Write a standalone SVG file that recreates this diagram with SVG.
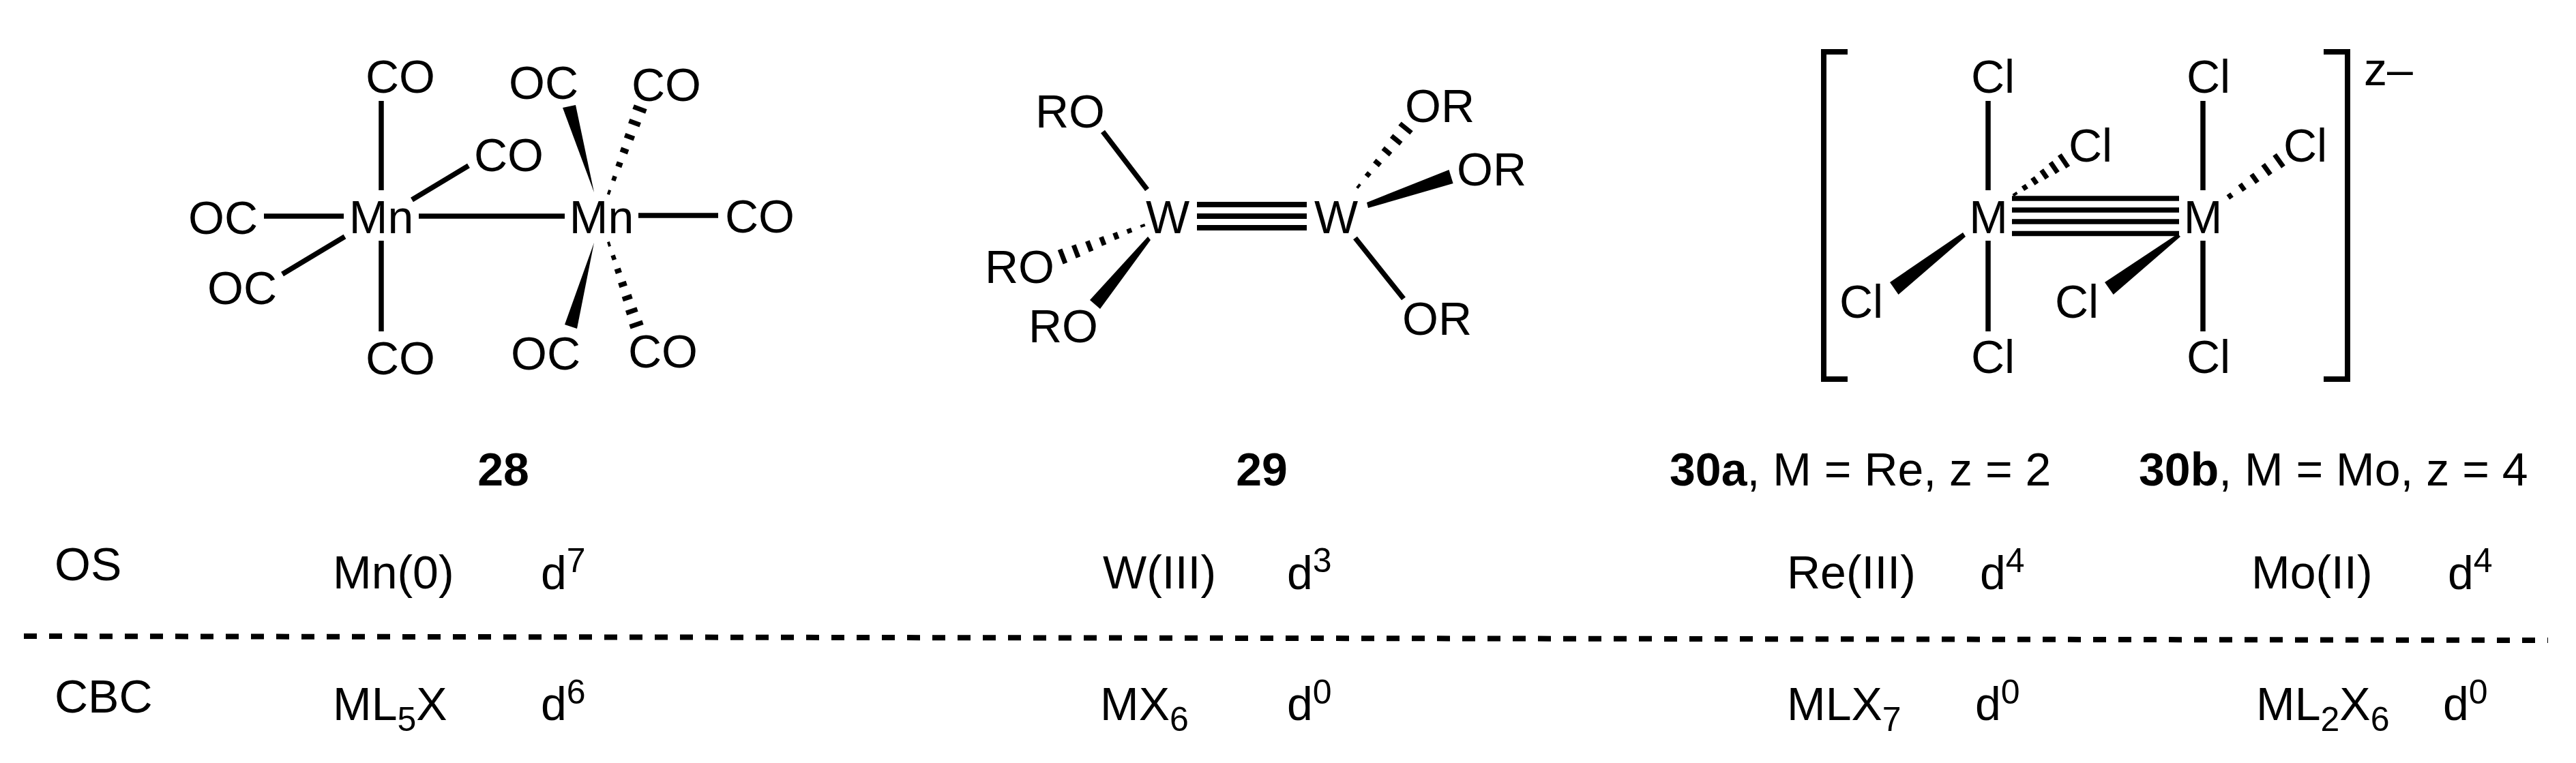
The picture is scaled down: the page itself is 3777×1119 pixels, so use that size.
<svg xmlns="http://www.w3.org/2000/svg" width="3777" height="1119" viewBox="0 0 3777 1119">
<style>
text{font-family:"Liberation Sans",Arial,sans-serif;font-size:68px;fill:#000}
.c{text-anchor:middle}
.b{font-weight:700}
tspan.s{font-size:50px}
.bond line,.bond path{stroke:#000;fill:none}
.bond line{stroke-width:7.5}
.hash line{stroke-width:7}
.wedge polygon{fill:#000}
</style>
<rect width="3777" height="1119" fill="#fff"/>
<g id="connectors" class="bond">
<g id="bonds-28">
<line x1="559" y1="148" x2="559" y2="279"/>
<line x1="559" y1="353" x2="559" y2="486"/>
<line x1="604" y1="293" x2="687" y2="243"/>
<line x1="387" y1="317" x2="504" y2="317"/>
<line x1="614" y1="317" x2="828" y2="317"/>
<line x1="936" y1="316" x2="1053" y2="316"/>
<line x1="505.500" y1="347" x2="414" y2="402"/>
<g class="wedge"><polygon points="871,282 825,158 844,154 871,282"/><polygon points="871,356 828,476 846,482"/></g>
<g class="hash">
<line x1="891" y1="281.300" x2="895" y2="282.700"/><line x1="897.400" y1="260.600" x2="903.600" y2="262.800"/><line x1="903.600" y1="239.700" x2="912.400" y2="242.900"/><line x1="909.900" y1="218.900" x2="921.100" y2="223.100"/><line x1="916.100" y1="198.200" x2="929.900" y2="203.200"/><line x1="922.300" y1="177.300" x2="938.700" y2="183.300"/><line x1="928.600" y1="156.500" x2="947.400" y2="163.500"/>
<line x1="891.100" y1="358.600" x2="894.900" y2="357.400"/><line x1="896.600" y1="378.800" x2="902.800" y2="376.600"/><line x1="901.800" y1="398.800" x2="910.800" y2="395.800"/><line x1="907.300" y1="418.900" x2="918.700" y2="415.100"/><line x1="912.800" y1="439" x2="926.600" y2="434.400"/><line x1="918.100" y1="459.100" x2="934.500" y2="453.500"/><line x1="923.500" y1="479.200" x2="942.500" y2="472.800"/>
</g>
</g>
<g id="bonds-29">
<line x1="1617" y1="193" x2="1682" y2="278"/>
<line x1="1987" y1="349" x2="2058" y2="438"/>
<line x1="1755" y1="300" x2="1916" y2="300" style="stroke-width:8"/><line x1="1755" y1="317" x2="1916" y2="317" style="stroke-width:8"/><line x1="1755" y1="334" x2="1916" y2="334" style="stroke-width:8"/>
<g class="wedge"><polygon points="2004,297 2006,305 2130.600,269 2124.500,249"/><polygon points="1683,347 1687,352 1613,453 1598,440"/></g>
<g class="hash">
<line x1="1990.400" y1="271.700" x2="1993.600" y2="274.300"/><line x1="2002.900" y1="253.600" x2="2008.700" y2="258.400"/><line x1="2015.300" y1="235.500" x2="2023.900" y2="242.500"/><line x1="2027.700" y1="217.300" x2="2039.100" y2="226.700"/><line x1="2040.100" y1="199.200" x2="2054.300" y2="210.800"/><line x1="2052.500" y1="181.100" x2="2069.500" y2="194.900"/>
<line x1="1674.800" y1="329.100" x2="1676.200" y2="332.900"/><line x1="1654.700" y1="335.200" x2="1657.100" y2="341.800"/><line x1="1634.500" y1="341.300" x2="1638.100" y2="350.700"/><line x1="1614.500" y1="347.400" x2="1619.100" y2="359.600"/><line x1="1594.300" y1="353.500" x2="1600.100" y2="368.500"/><line x1="1574.200" y1="359.600" x2="1581" y2="377.400"/><line x1="1554.100" y1="365.700" x2="1561.900" y2="386.300"/>
</g>
</g>
<g id="bonds-30">
<path d="M2709,76H2674V556H2709" style="stroke-width:8"/>
<path d="M3407,76H3442V556H3407" style="stroke-width:8"/>
<line x1="2915" y1="148" x2="2915" y2="279"/><line x1="2915" y1="353" x2="2915" y2="486"/>
<line x1="3230" y1="148" x2="3230" y2="279"/><line x1="3230" y1="353" x2="3230" y2="486"/>
<line x1="2950" y1="291" x2="3195" y2="291"/><line x1="2950" y1="308" x2="3195" y2="308"/><line x1="2950" y1="325" x2="3195" y2="325"/><line x1="2950" y1="342.500" x2="3195" y2="342.500"/>
<g class="wedge"><polygon points="2878,341 2882,347 2783.500,432 2771,414"/><polygon points="3193,343 3197,347 3098.700,432 3086,414"/></g>
<g class="hash">
<line x1="2953.500" y1="282.900" x2="2955.700" y2="286.300"/><line x1="2966.800" y1="271.700" x2="2971" y2="278.100"/><line x1="2980" y1="260.600" x2="2986.400" y2="269.800"/><line x1="2993.200" y1="249.300" x2="3001.600" y2="261.500"/><line x1="3006.500" y1="238.100" x2="3016.900" y2="253.300"/><line x1="3019.800" y1="226.900" x2="3032.200" y2="245.100"/>
<line x1="3267.400" y1="284.300" x2="3272" y2="290.700"/><line x1="3284.300" y1="269.800" x2="3291.100" y2="279.200"/><line x1="3301.200" y1="255.500" x2="3310" y2="267.700"/><line x1="3318.200" y1="241.100" x2="3329" y2="256.100"/><line x1="3335.100" y1="226.800" x2="3347.900" y2="244.600"/>
</g>
</g>
<path id="divider" d="M35,933L3736,939" style="stroke-width:8;stroke-dasharray:19 18"/>
</g>
<g id="mol-28">
<text class="c" x="587" y="136">CO</text>
<text class="c" x="746" y="251">CO</text>
<text class="c" x="327" y="343">OC</text>
<text class="c" x="355" y="446">OC</text>
<text class="c" x="587" y="549">CO</text>
<text class="c" x="559" y="342">Mn</text>
<text class="c" x="882" y="342">Mn</text>
<text class="c" x="797" y="145">OC</text>
<text class="c" x="977" y="148">CO</text>
<text class="c" x="1114" y="341">CO</text>
<text class="c" x="800" y="542">OC</text>
<text class="c" x="972" y="539">CO</text>
<text class="c b" x="738" y="712">28</text>
</g>
<g id="mol-29">
<text class="c" x="1569" y="187">RO</text>
<text class="c" x="1495" y="415">RO</text>
<text class="c" x="1559" y="502">RO</text>
<text class="c" x="1712" y="342">W</text>
<text class="c" x="1959" y="342">W</text>
<text class="c" x="2111" y="179">OR</text>
<text class="c" x="2187" y="272">OR</text>
<text class="c" x="2107" y="491">OR</text>
<text class="c b" x="1850" y="712">29</text>
</g>
<g id="mol-30">
<text class="c" x="2922" y="136">Cl</text>
<text class="c" x="3238" y="136">Cl</text>
<text class="c" x="3065" y="237">Cl</text>
<text class="c" x="3380" y="237">Cl</text>
<text class="c" x="2729" y="466">Cl</text>
<text class="c" x="3045" y="466">Cl</text>
<text class="c" x="2922" y="547">Cl</text>
<text class="c" x="3238" y="547">Cl</text>
<text class="c" x="2915.500" y="342">M</text>
<text class="c" x="3230" y="342">M</text>
<text x="3466" y="125">z–</text>
<text x="2448" y="712"><tspan class="b">30a</tspan>, M = Re, z = 2</text>
<text x="3136" y="712"><tspan class="b">30b</tspan>, M = Mo, z = 4</text>
</g>
<g id="table">
<text x="80" y="851">OS</text>
<text x="80" y="1045">CBC</text>
<text x="488" y="863">Mn(0)</text>
<text x="793" y="864">d<tspan class="s" dy="-25">7</tspan></text>
<text x="488" y="1056">ML<tspan class="s" dy="16">5</tspan><tspan dy="-16">X</tspan></text>
<text x="793" y="1056">d<tspan class="s" dy="-24">6</tspan></text>
<text x="1617" y="863">W(III)</text>
<text x="1887" y="864">d<tspan class="s" dy="-25">3</tspan></text>
<text x="1613" y="1056">MX<tspan class="s" dy="16">6</tspan></text>
<text x="1887" y="1056">d<tspan class="s" dy="-24">0</tspan></text>
<text x="2620" y="863">Re(III)</text>
<text x="2903" y="864">d<tspan class="s" dy="-25">4</tspan></text>
<text x="2620" y="1056">MLX<tspan class="s" dy="16">7</tspan></text>
<text x="2896" y="1056">d<tspan class="s" dy="-24">0</tspan></text>
<text x="3301" y="863">Mo(II)</text>
<text x="3589" y="864">d<tspan class="s" dy="-25">4</tspan></text>
<text x="3308" y="1056">ML<tspan class="s" dy="16">2</tspan><tspan dy="-16">X</tspan><tspan class="s" dy="16">6</tspan></text>
<text x="3582" y="1056">d<tspan class="s" dy="-24">0</tspan></text>
</g>
</svg>
